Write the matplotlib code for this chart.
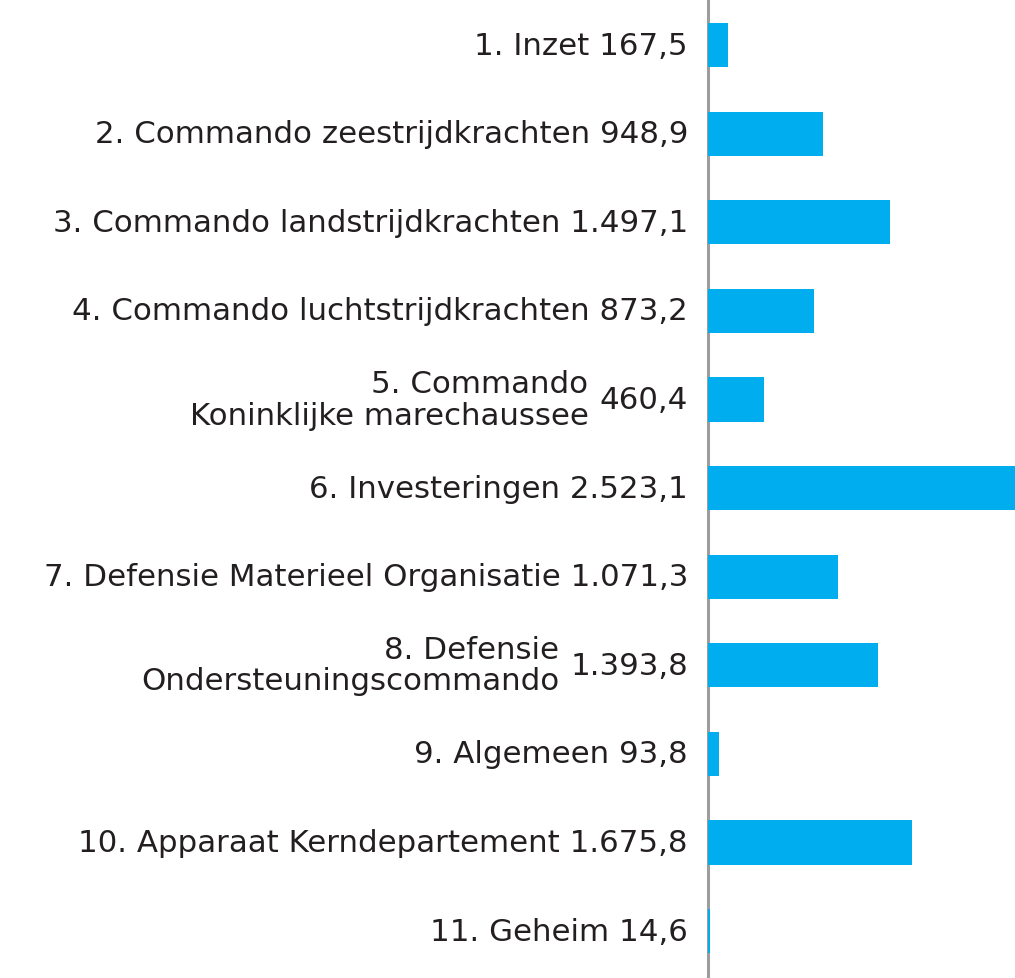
import matplotlib
matplotlib.use("Agg")
import matplotlib.pyplot as plt

names = ["1. Inzet", "2. Commando zeestrijdkrachten", "3. Commando landstrijdkrachten",
         "4. Commando luchtstrijdkrachten", "5. Commando\nKoninklijke marechaussee",
         "6. Investeringen", "7. Defensie Materieel Organisatie",
         "8. Defensie\nOndersteuningscommando", "9. Algemeen",
         "10. Apparaat Kerndepartement", "11. Geheim"]
values = [167.5, 948.9, 1497.1, 873.2, 460.4, 2523.1, 1071.3, 1393.8, 93.8, 1675.8, 14.6]
value_labels = ["167,5", "948,9", "1.497,1", "873,2", "460,4", "2.523,1",
                "1.071,3", "1.393,8", "93,8", "1.675,8", "14,6"]

plt.rcParams['font.family'] = ['DejaVu Sans']
bar_color = '#00aeef'
txt_color = '#231f20'
fs = 22.2

fig = plt.figure(figsize=(10.15, 9.79), dpi=100)
ax = fig.add_axes([708/1015, 0, 307/1015, 1])
ypos = list(range(len(values)))
ax.barh(ypos, values, height=0.5, color=bar_color, zorder=4)
ax.set_xlim(0, 2523.1)
ax.set_ylim(10.53, -0.52)
for s in ['top', 'right', 'bottom']:
    ax.spines[s].set_visible(False)
ax.spines['left'].set_color('#9d9d9d')
ax.spines['left'].set_linewidth(2.2)
ax.spines['left'].set_zorder(3)
ax.set_xticks([])
ax.set_yticks([])

fig.canvas.draw()
renderer = fig.canvas.get_renderer()
for i, (nm, vl) in enumerate(zip(names, value_labels)):
    if "\n" in nm:
        # value stays next to the bar, two-line name goes to its left
        t = ax.annotate(vl, (0, i), xytext=(-20 * 0.72, 0), textcoords='offset points',
                        ha='right', va='center', fontsize=fs, color=txt_color)
        w = t.get_window_extent(renderer).width * 72 / 100
        ax.annotate(nm, (0, i), xytext=(-20 * 0.72 - w - 8, 0), textcoords='offset points',
                    ha='right', va='center', fontsize=fs, color=txt_color,
                    multialignment='right', linespacing=1.1)
    else:
        ax.annotate(nm + " " + vl, (0, i), xytext=(-20 * 0.72, 0), textcoords='offset points',
                    ha='right', va='center', fontsize=fs, color=txt_color)

fig.savefig("out.png", dpi=100)
